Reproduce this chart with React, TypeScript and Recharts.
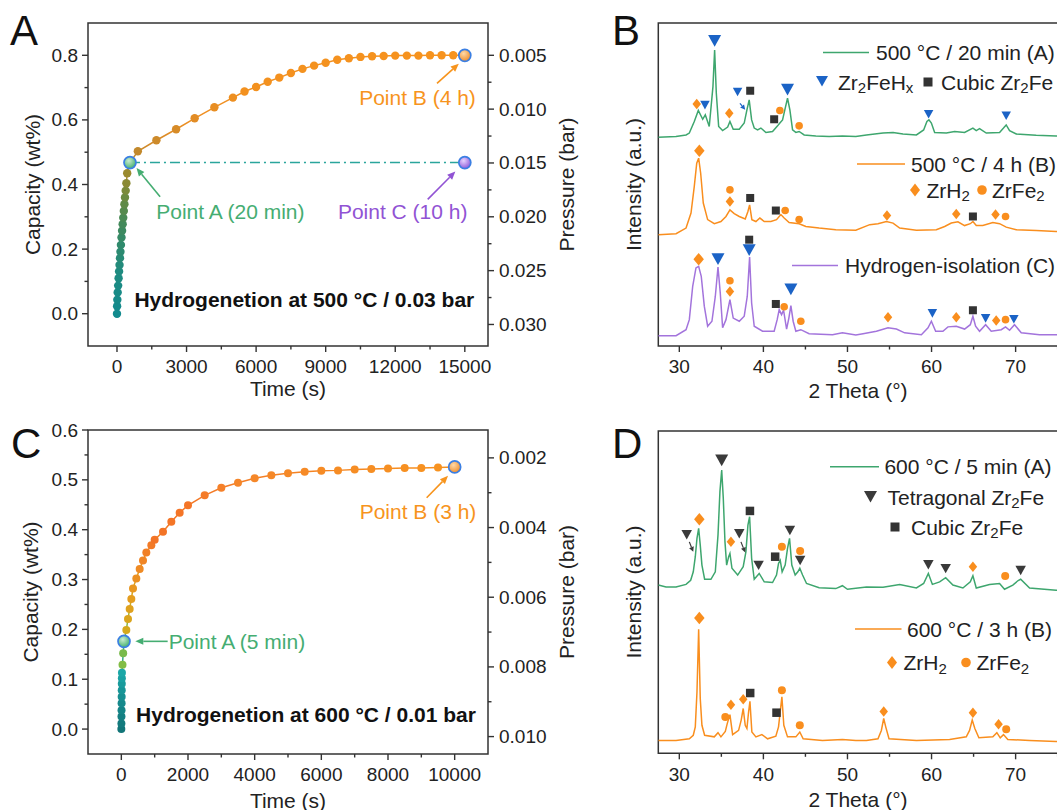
import React from 'react';
import {
  ComposedChart,
  Line,
  Scatter,
  XAxis,
  YAxis,
  ReferenceArea,
  ReferenceDot,
  ReferenceLine,
} from 'recharts';

const FONT = '"Liberation Sans", Arial, Helvetica, sans-serif';
const AX = '#333333';
const INK = '#222222';

const GREEN = '#3ea66e';
const ORANGE = '#f98e1e';
const PURPLE = '#a374dc';
const BLUE = '#1b63c6';
const DARK = '#3a3a3a';
const NOTE_GREEN = '#45ad72';
const NOTE_ORANGE = '#f7941d';
const NOTE_PURPLE = '#9153d4';

// ---------- panel A: 500 °C / 0.03 bar ----------
const A_TIME = [
  0, 5, 15, 30, 50, 70, 90, 110, 130, 150, 170, 195, 220, 245, 270, 295, 320, 345, 375, 405, 440,
  560,
  900, 1700, 2550, 3350, 4200, 5000, 5500, 6000, 6500, 7000,
  7500, 8000, 8500, 9000, 9500, 10000, 10500, 11000, 11500, 12000,
  12500, 13000, 13500, 14000, 14500, 15000,
];
const A_CAP = [
  0, 0.023, 0.043, 0.066, 0.087, 0.11, 0.131, 0.151, 0.172, 0.192, 0.213, 0.236, 0.257, 0.277,
  0.297, 0.318, 0.339, 0.36, 0.381, 0.404, 0.435,
  0.468,
  0.503, 0.537, 0.571, 0.605, 0.639, 0.669, 0.688, 0.702, 0.718, 0.731,
  0.745, 0.758, 0.768, 0.777, 0.786, 0.791, 0.795, 0.797, 0.798, 0.799,
  0.799, 0.799, 0.8, 0.8, 0.8, 0.8,
];
const A_IDX_A = 21;
const A_IDX_B = 47;
const A_POINT_C = [15000, 0.468];
const A_X_TICKS = [0, 1500, 3000, 4500, 6000, 7500, 9000, 10500, 12000, 13500, 15000];
const A_X_MAJOR = [0, 3000, 6000, 9000, 12000, 15000];
const A_Y_TICKS = [0, 0.1, 0.2, 0.3, 0.4, 0.5, 0.6, 0.7, 0.8];
const A_Y_MAJOR = [0, 0.2, 0.4, 0.6, 0.8];
const A_P_TICKS = [0.005, 0.0075, 0.01, 0.0125, 0.015, 0.0175, 0.02, 0.0225, 0.025, 0.0275, 0.03];
const A_P_MAJOR = [0.005, 0.01, 0.015, 0.02, 0.025, 0.03];

// ---------- panel C: 600 °C / 0.01 bar ----------
const C_TIME = [
  0, 2, 4, 6, 8, 10, 12, 14, 16, 18, 35, 55,
  80,
  150, 200, 250, 300, 350, 450, 550, 650, 750, 900,
  1000, 1250, 1500, 1750, 2000,
  2500, 3000, 3500, 4000, 4500, 5000, 5500, 6000, 6500, 7000, 7500, 8000, 8500, 9000, 9500, 10000,
];
const C_CAP = [
  0, 0.011, 0.025, 0.038, 0.052, 0.065, 0.078, 0.091, 0.102, 0.113, 0.129, 0.152,
  0.176,
  0.199, 0.221, 0.241, 0.261, 0.282, 0.302, 0.321, 0.338, 0.354, 0.369,
  0.38, 0.396, 0.416, 0.434, 0.449,
  0.469, 0.484, 0.494, 0.503, 0.509, 0.513, 0.516, 0.518, 0.519, 0.521, 0.522, 0.523, 0.524, 0.524,
  0.525, 0.526,
];
const C_IDX_A = 12;
const C_IDX_B = 43;
const C_X_TICKS = [0, 1000, 2000, 3000, 4000, 5000, 6000, 7000, 8000, 9000, 10000];
const C_X_MAJOR = [0, 2000, 4000, 6000, 8000, 10000];
const C_Y_TICKS = [0, 0.05, 0.1, 0.15, 0.2, 0.25, 0.3, 0.35, 0.4, 0.45, 0.5, 0.55, 0.6];
const C_Y_MAJOR = [0, 0.1, 0.2, 0.3, 0.4, 0.5, 0.6];
const C_P_TICKS = [0.002, 0.003, 0.004, 0.005, 0.006, 0.007, 0.008, 0.009, 0.01];
const C_P_MAJOR = [0.002, 0.004, 0.006, 0.008, 0.01];

// ---------- XRD (panels B and D), [2 theta, intensity] ----------
const XRD_TICKS = [30, 35, 40, 45, 50, 55, 60, 65, 70, 75];
const XRD_MAJOR = [30, 40, 50, 60, 70];

const B_GREEN = [
  [27.5, 63.6], [29.6, 63.8], [30.8, 64.3], [31.19, 64.9], [31.78, 68.6], [32.26, 72.1], [32.78, 69.3],
  [33.09, 70.7], [33.56, 67.0], [34.0, 79.7], [34.2, 91.4], [34.4, 77.6], [34.68, 67.0], [35.15, 65.7],
  [35.75, 66.8], [36.02, 68.6], [36.41, 66.1], [37.13, 66.1], [37.72, 68.1], [38.04, 72.3], [38.31, 75.5],
  [38.6, 69.1], [38.91, 66.5], [39.31, 65.9], [39.7, 66.5], [40.3, 65.1], [41.09, 65.4], [41.69, 67.2],
  [41.96, 68.1], [42.28, 69.1], [42.59, 72.8], [42.87, 76.0], [43.15, 72.3], [43.47, 65.9], [43.86, 65.1],
  [44.25, 65.4], [44.85, 64.3], [46.24, 64.0], [47.82, 63.8], [49.4, 64.0], [50.99, 63.8], [52.26, 64.3],
  [54.23, 64.9], [55.42, 65.1], [56.6, 64.6], [58.2, 64.3], [59.06, 65.9], [59.45, 68.6], [59.69, 69.1],
  [59.98, 68.1], [60.37, 65.1], [61.76, 64.9], [62.74, 65.4], [63.93, 65.1], [64.92, 66.5], [65.32, 65.7],
  [65.71, 66.3], [66.51, 64.9], [68.09, 65.1], [68.56, 66.5], [68.88, 67.5], [69.28, 65.7], [70.07, 64.6],
  [72.45, 64.2], [74.82, 64.0], [75.1, 64.0],
];
const B_ORANGE = [
  [27.5, 32.5], [29.61, 32.8], [30.8, 34.6], [31.39, 39.4], [31.78, 47.9], [32.07, 55.3], [32.3, 56.9],
  [32.54, 52.1], [32.85, 42.6], [33.37, 37.3], [34.16, 36.0], [34.95, 36.7], [35.55, 38.3], [36.02, 40.4],
  [36.53, 39.2], [37.13, 38.3], [37.84, 37.5], [38.16, 39.9], [38.36, 42.0], [38.63, 37.3], [39.11, 36.7],
  [39.58, 37.8], [40.1, 36.7], [40.89, 36.7], [41.56, 37.3], [42.08, 38.9], [42.47, 37.8], [43.06, 36.4],
  [44.25, 36.0], [45.05, 35.1], [46.63, 34.6], [48.61, 34.1], [50.99, 33.9], [52.65, 35.7], [53.63, 36.0],
  [54.63, 36.7], [55.42, 36.2], [56.21, 34.6], [58.2, 33.9], [60.57, 34.1], [61.56, 35.1], [62.35, 36.2],
  [63.14, 36.6], [63.93, 35.4], [64.61, 36.0], [64.92, 36.7], [65.32, 35.4], [66.1, 35.4], [67.29, 36.4],
  [68.09, 36.0], [68.88, 34.9], [70.07, 34.1], [72.45, 33.8], [74.82, 33.5], [75.1, 33.5],
];
const B_PURPLE = [
  [27.5, 0.3], [29.61, 0.3], [30.8, 2.2], [31.19, 5.4], [31.59, 16.0], [31.98, 21.9], [32.3, 22.4],
  [32.61, 19.2], [32.97, 9.7], [33.37, 3.3], [33.88, 4.9], [34.28, 12.8], [34.6, 22.2], [34.87, 13.9],
  [35.15, 2.8], [35.55, 5.4], [36.02, 11.8], [36.41, 5.9], [37.13, 4.9], [37.72, 6.5], [38.08, 12.8],
  [38.36, 25.4], [38.6, 10.7], [38.91, 3.3], [39.9, 1.7], [41.28, 1.7], [41.64, 5.4], [41.88, 8.6],
  [42.16, 7.0], [42.4, 8.4], [42.76, 2.4], [43.03, 5.9], [43.27, 9.9], [43.54, 4.9], [43.86, 1.7],
  [44.45, 2.2], [45.44, 0.9], [48.22, 0.6], [49.4, 1.2], [50.99, 0.5], [51.85, 0.9], [53.44, 1.7],
  [54.82, 2.8], [55.82, 2.4], [56.8, 1.2], [58.79, 0.6], [59.58, 2.8], [59.98, 4.9], [60.49, 1.7],
  [61.35, 1.7], [61.95, 3.1], [62.94, 3.3], [63.93, 2.4], [64.61, 3.8], [64.92, 6.5], [65.24, 3.3],
  [65.71, 1.7], [66.43, 3.8], [67.1, 1.7], [68.29, 2.2], [68.8, 3.1], [69.28, 2.0], [69.87, 3.8],
  [70.67, 1.2], [72.84, 0.6], [74.82, 0.6], [75.1, 0.6],
];
const B_TRI_BIG = [[34.2, 94.4], [42.87, 78.9], [34.6, 24.8], [38.31, 27.7], [43.27, 15.2]];
const B_TRI_SMALL = [[33.05, 73.9], [36.93, 78.1], [59.65, 71.0], [68.88, 70.5], [60.1, 7.5], [66.43, 5.9], [69.79, 5.6]];
const B_SQUARES = [[38.43, 78.4], [41.28, 69.3], [38.43, 44.2], [41.48, 40.2], [64.92, 38.3], [38.31, 30.9], [41.48, 10.4], [64.92, 8.4]];
const B_DIA_BIG = [[32.38, 59.3], [32.3, 24.7]];
const B_DIAMONDS = [[32.07, 74.2], [35.94, 71.2], [36.02, 43.1], [54.7, 38.6], [62.94, 39.1], [67.61, 38.9], [36.02, 14.4], [54.82, 6.2], [62.94, 6.2], [67.69, 5.1]];
const B_CIRCLES = [[41.96, 72.1], [44.25, 67.2], [36.02, 46.8], [42.59, 40.2], [44.25, 37.3], [68.8, 38.3], [36.02, 17.8], [42.47, 9.5], [44.45, 4.9], [68.8, 5.4]];
const B_ARROWS = [[[37.21, 74.4], [37.84, 72.3]]];

const D_GREEN = [
  [27.5, 52.2], [28.42, 51.6], [29.61, 51.6], [30.8, 52.4], [31.35, 53.7], [31.66, 56.3], [31.9, 61.0],
  [32.1, 66.7], [32.3, 69.8], [32.49, 64.6], [32.69, 58.4], [33.01, 54.0], [33.76, 54.0], [34.28, 56.3],
  [34.6, 67.7], [34.83, 81.2], [35.04, 87.9], [35.23, 79.1], [35.43, 65.6], [35.63, 58.4], [35.87, 61.0],
  [36.02, 62.0], [36.26, 57.4], [36.94, 55.3], [37.6, 57.9], [37.92, 62.5], [38.16, 70.8], [38.36, 73.4],
  [38.6, 60.5], [38.91, 54.0], [39.5, 55.8], [40.1, 53.2], [41.09, 53.0], [41.56, 55.3], [41.8, 58.9],
  [42.0, 59.9], [42.23, 56.3], [42.59, 58.4], [42.87, 63.6], [43.11, 66.7], [43.38, 58.4], [43.78, 55.3],
  [44.1, 56.3], [44.33, 57.4], [44.66, 55.3], [45.13, 52.7], [46.63, 51.4], [48.61, 51.1], [49.4, 52.0],
  [50.0, 50.9], [52.26, 51.6], [54.23, 51.5], [56.21, 52.4], [58.2, 51.3], [59.06, 52.7], [59.62, 55.8],
  [60.1, 52.4], [60.96, 53.2], [61.68, 54.5], [62.54, 52.2], [63.73, 51.3], [64.61, 53.2], [64.92, 55.1],
  [65.32, 51.3], [66.9, 52.4], [68.09, 52.7], [68.68, 50.9], [69.67, 52.2], [70.3, 53.6], [70.6, 54.0],
  [71.66, 51.3], [74.82, 50.6], [75.1, 50.6],
];
const D_ORANGE = [
  [27.5, 4.0], [29.61, 4.0], [31.19, 4.5], [31.66, 5.6], [31.9, 8.2], [32.1, 19.0], [32.3, 38.5],
  [32.49, 17.0], [32.69, 8.7], [33.01, 5.6], [34.16, 5.1], [34.6, 6.4], [34.95, 5.1], [35.47, 6.8],
  [35.7, 9.2], [36.02, 12.0], [36.34, 5.8], [37.05, 7.1], [37.36, 10.3], [37.6, 13.9], [37.84, 8.7],
  [38.04, 7.7], [38.24, 12.9], [38.4, 16.1], [38.63, 6.6], [39.11, 5.1], [39.82, 5.8], [40.5, 4.5],
  [41.48, 5.3], [41.8, 8.2], [42.0, 12.9], [42.2, 17.5], [42.43, 8.7], [42.87, 5.1], [43.86, 5.1],
  [44.33, 6.6], [44.73, 4.5], [47.03, 4.0], [49.4, 4.3], [50.99, 4.0], [52.26, 4.0], [53.63, 4.5],
  [54.03, 7.1], [54.31, 10.8], [54.55, 8.2], [54.94, 4.5], [58.2, 4.0], [62.15, 4.3], [64.13, 5.1],
  [64.52, 7.1], [64.84, 10.3], [65.15, 7.7], [65.63, 4.8], [67.29, 5.1], [67.77, 6.4], [68.17, 4.8],
  [68.56, 5.8], [69.07, 4.3], [71.66, 4.0], [74.82, 3.7], [75.1, 3.7],
];
const D_TRI_BIG = [[35.04, 91.0]];
const D_TRI = [[30.88, 67.9], [37.13, 68.2], [39.43, 58.4], [43.15, 69.2], [44.37, 59.9], [59.62, 58.6], [61.68, 57.4], [70.6, 56.8]];
const D_SQUARES = [[38.4, 75.2], [41.4, 61.0], [38.43, 18.7], [41.56, 12.6]];
const D_DIA_BIG = [[32.38, 72.6], [32.38, 42.0]];
const D_DIAMONDS = [[36.14, 65.6], [64.92, 57.9], [36.14, 15.1], [37.6, 16.8], [54.31, 13.0], [64.92, 12.6], [67.97, 9.0]];
const D_CIRCLES = [[42.2, 64.1], [44.37, 62.8], [68.76, 55.0], [35.47, 11.3], [42.2, 19.6], [44.33, 8.7], [68.88, 7.5]];
const D_ARROWS = [[[31.19, 65.6], [31.66, 62.5]], [[37.33, 65.6], [37.84, 62.3]]];

// ---------- helpers ----------
const toXY = (pairs: number[][]) => pairs.map(([x, y]) => ({ x, y }));
const zipXY = (xs: number[], ys: number[]) => xs.map((x, i) => ({ x, y: ys[i] }));

function hexToRgb(h: string) {
  const n = parseInt(h.slice(1), 16);
  return [(n >> 16) & 255, (n >> 8) & 255, n & 255];
}
// colour ramp over dot index (styling only)
function ramp(stops: [number, string][], count: number) {
  const out: string[] = [];
  for (let i = 0; i < count; i++) {
    let k = 0;
    while (k < stops.length - 2 && i > stops[k + 1][0]) k++;
    const [i0, c0] = stops[k];
    const [i1, c1] = stops[k + 1];
    const t = i1 === i0 ? 0 : Math.min(1, Math.max(0, (i - i0) / (i1 - i0)));
    const a = hexToRgb(c0);
    const b = hexToRgb(c1);
    const m = a.map((v, j) => Math.round(v + (b[j] - v) * t));
    out.push(`rgb(${m[0]},${m[1]},${m[2]})`);
  }
  return out;
}

const A_DOT_COLORS = ramp(
  [[0, '#138b8e'], [6, '#1f8b80'], [10, '#2f8a6c'], [14, '#4a8a55'], [17, '#6a8a40'], [20, '#9a8a2e'],
   [22, '#c2892c'], [25, '#e28c25'], [28, '#f3911f'], [47, '#f7931e']],
  A_TIME.length,
);
const C_DOT_COLORS = ramp(
  [[0, '#127578'], [4, '#16898c'], [9, '#1ba7a7'], [10, '#82bd45'], [12, '#6fb751'], [13, '#d5a91c'],
   [16, '#e49d1f'], [19, '#ef8a24'], [23, '#f37426'], [27, '#f47527'], [30, '#f5862a'], [43, '#f7931e']],
  C_TIME.length,
);

type Side = 'left' | 'right' | 'bottom';
function tickRenderer(side: Side, majors: number[], fmt: (v: number) => string, gap: number) {
  return (props: any) => {
    const { x, y, payload } = props;
    const v = Number(payload.value);
    const major = majors.some((m) => Math.abs(m - v) < 1e-9);
    const len = major ? 6 : 3.5;
    const label = major ? fmt(v) : '';
    if (side === 'bottom') {
      return (
        <g>
          <line x1={x} y1={y} x2={x} y2={y + len} stroke={AX} strokeWidth={1.4} />
          {label && (
            <text x={x} y={y + gap} textAnchor="middle" dominantBaseline="central" fontSize={19} fill={INK} fontFamily={FONT}>
              {label}
            </text>
          )}
        </g>
      );
    }
    const dir = side === 'left' ? -1 : 1;
    return (
      <g>
        <line x1={x} y1={y} x2={x + dir * len} y2={y} stroke={AX} strokeWidth={1.4} />
        {label && (
          <text x={x + dir * gap} y={y} textAnchor={side === 'left' ? 'end' : 'start'} dominantBaseline="central" fontSize={19} fill={INK} fontFamily={FONT}>
            {label}
          </text>
        )}
      </g>
    );
  };
}

const dotRenderer = (colors: string[], r: number) => (p: any) => (
  <circle key={`d-${p.index}`} cx={p.cx} cy={p.cy} r={r} fill={colors[p.index]} stroke="none" />
);

const ringShape = (gradId: string) => (p: any) => (
  <circle cx={p.cx} cy={p.cy} r={6} fill={`url(#${gradId})`} stroke="#3b7fe3" strokeWidth={1.7} />
);

const noteShape = (text: string, color: string, anchor: 'start' | 'middle' | 'end' = 'middle', bold = false) => (p: any) => (
  <text
    x={p.cx}
    y={p.cy}
    textAnchor={anchor}
    dominantBaseline="central"
    fontSize={21}
    fontWeight={bold ? 700 : 400}
    fill={color}
    fontFamily={FONT}
  >
    {text}
  </text>
);

const arrowShape = (color: string, head = 8, half = 3.5, width = 1.6) => (p: any) => {
  const { x1, y1, x2, y2 } = p;
  const ang = Math.atan2(y2 - y1, x2 - x1);
  const bx = x2 - head * Math.cos(ang);
  const by = y2 - head * Math.sin(ang);
  const s = Math.sin(ang);
  const c = Math.cos(ang);
  const pts = `${x2},${y2} ${bx + half * s},${by - half * c} ${bx - half * s},${by + half * c}`;
  return (
    <g>
      <line x1={x1} y1={y1} x2={bx} y2={by} stroke={color} strokeWidth={width} />
      <polygon points={pts} fill={color} />
    </g>
  );
};

// marker glyphs
const triDown = (color: string, s: number) => (p: any) => (
  <polygon
    points={`${p.cx - s / 2},${p.cy - s * 0.42} ${p.cx + s / 2},${p.cy - s * 0.42} ${p.cx},${p.cy + s * 0.48}`}
    fill={color}
  />
);
const squareShape = (color: string, s: number) => (p: any) => (
  <rect x={p.cx - s / 2} y={p.cy - s / 2} width={s} height={s} fill={color} />
);
const diamondShape = (color: string, w: number, h: number) => (p: any) => (
  <polygon points={`${p.cx},${p.cy - h / 2} ${p.cx + w / 2},${p.cy} ${p.cx},${p.cy + h / 2} ${p.cx - w / 2},${p.cy}`} fill={color} />
);
const circleShape = (color: string, r: number) => (p: any) => <circle cx={p.cx} cy={p.cy} r={r} fill={color} />;

const fmtInt = (v: number) => String(Math.round(v));
const fmt1 = (v: number) => v.toFixed(1);
const fmt3 = (v: number) => v.toFixed(3);

// ---------- kinetic panels ----------
interface KineticProps {
  id: string;
  time: number[];
  cap: number[];
  idxA: number;
  idxB: number;
  colors: string[];
  dotR: number;
  xDomain: [number, number];
  yDomain: [number, number];
  pDomain: [number, number];
  xTicks: number[];
  xMajor: number[];
  yTicks: number[];
  yMajor: number[];
  pTicks: number[];
  pMajor: number[];
  top: number;
  xAxisH: number;
  lineStops: [string, string][];
  children?: React.ReactNode;
}

function KineticPanel(k: KineticProps) {
  const data = zipXY(k.time, k.cap);
  return (
    <ComposedChart width={600} height={405} margin={{ top: k.top, right: 0, bottom: 0, left: 0 }}>
      <defs>
        <linearGradient id={`line-${k.id}`} x1="0" y1="0" x2="1" y2="0">
          {k.lineStops.map(([off, col]) => (
            <stop key={off} offset={off} stopColor={col} />
          ))}
        </linearGradient>
        <radialGradient id={`gg-${k.id}`} cx="40%" cy="35%" r="70%">
          <stop offset="0%" stopColor="#c8ecd0" />
          <stop offset="100%" stopColor="#3fae6a" />
        </radialGradient>
        <radialGradient id={`go-${k.id}`} cx="40%" cy="35%" r="70%">
          <stop offset="0%" stopColor="#ffd9a8" />
          <stop offset="100%" stopColor="#f08a24" />
        </radialGradient>
        <radialGradient id={`gp-${k.id}`} cx="40%" cy="35%" r="70%">
          <stop offset="0%" stopColor="#e6d2ff" />
          <stop offset="100%" stopColor="#8c55d8" />
        </radialGradient>
      </defs>
      <XAxis
        type="number"
        dataKey="x"
        domain={k.xDomain}
        ticks={k.xTicks}
        interval={0}
        tickSize={0}
        tickMargin={0}
        tickLine={false}
        axisLine={false}
        height={k.xAxisH}
        allowDataOverflow
        tick={tickRenderer('bottom', k.xMajor, fmtInt, 20.7)}
      />
      <YAxis
        yAxisId="cap"
        type="number"
        dataKey="y"
        domain={k.yDomain}
        ticks={k.yTicks}
        interval={0}
        tickSize={0}
        tickMargin={0}
        tickLine={false}
        axisLine={false}
        width={88}
        allowDataOverflow
        tick={tickRenderer('left', k.yMajor, fmt1, 10)}
      />
      <YAxis
        yAxisId="p"
        orientation="right"
        type="number"
        dataKey="y"
        domain={k.pDomain}
        reversed
        ticks={k.pTicks}
        interval={0}
        tickSize={0}
        tickMargin={0}
        tickLine={false}
        axisLine={false}
        width={112}
        allowDataOverflow
        tick={tickRenderer('right', k.pMajor, fmt3, 11)}
      />
      <ReferenceArea
        yAxisId="cap"
        x1={k.xDomain[0]}
        x2={k.xDomain[1]}
        y1={k.yDomain[0]}
        y2={k.yDomain[1]}
        fill="none"
        fillOpacity={0}
        stroke={AX}
        strokeWidth={1.5}
        ifOverflow="visible"
      />
      {k.children}
      <Line
        yAxisId="cap"
        data={data}
        dataKey="y"
        type="linear"
        stroke={`url(#line-${k.id})`}
        strokeWidth={1.5}
        dot={dotRenderer(k.colors, k.dotR)}
        activeDot={false}
        isAnimationActive={false}
      />
      <Scatter yAxisId="cap" data={[data[k.idxA]]} shape={ringShape(`gg-${k.id}`)} isAnimationActive={false} />
      <Scatter yAxisId="cap" data={[data[k.idxB]]} shape={ringShape(`go-${k.id}`)} isAnimationActive={false} />
    </ComposedChart>
  );
}

function PanelA() {
  const pA = { x: A_TIME[A_IDX_A], y: A_CAP[A_IDX_A] };
  const pC = { x: A_POINT_C[0], y: A_POINT_C[1] };
  return (
    <KineticPanel
      id="a"
      time={A_TIME}
      cap={A_CAP}
      idxA={A_IDX_A}
      idxB={A_IDX_B}
      colors={A_DOT_COLORS}
      dotR={4.2}
      xDomain={[-1250, 16000]}
      yDomain={[-0.1, 0.9]}
      pDomain={[0.002, 0.032]}
      xTicks={A_X_TICKS}
      xMajor={A_X_MAJOR}
      yTicks={A_Y_TICKS}
      yMajor={A_Y_MAJOR}
      pTicks={A_P_TICKS}
      pMajor={A_P_MAJOR}
      top={23}
      xAxisH={59}
      lineStops={[['0%', '#2f8a70'], ['3%', '#b58a2e'], ['8%', '#d08a2a'], ['22%', '#ef8f22'], ['100%', '#f7931e']]}
    >
      <Line
        yAxisId="cap"
        data={[pA, pC]}
        dataKey="y"
        type="linear"
        stroke="#2aa59c"
        strokeWidth={1.5}
        strokeDasharray="10 4 2 4"
        dot={false}
        activeDot={false}
        isAnimationActive={false}
      />
      <Scatter yAxisId="cap" data={[pC]} shape={ringShape('gp-a')} isAnimationActive={false} />
      <ReferenceLine yAxisId="cap" segment={[{ x: 1860, y: 0.362 }, { x: 843, y: 0.451 }]} shape={arrowShape(NOTE_GREEN)} />
      <ReferenceLine yAxisId="cap" segment={[{ x: 13800, y: 0.713 }, { x: 14740, y: 0.774 }]} shape={arrowShape(NOTE_ORANGE)} />
      <ReferenceLine yAxisId="cap" segment={[{ x: 13400, y: 0.354 }, { x: 14590, y: 0.44 }]} shape={arrowShape(NOTE_PURPLE)} />
      <ReferenceDot yAxisId="cap" x={4890} y={0.316} shape={noteShape('Point A (20 min)', NOTE_GREEN)} />
      <ReferenceDot yAxisId="cap" x={12960} y={0.668} shape={noteShape('Point B (4 h)', NOTE_ORANGE)} />
      <ReferenceDot yAxisId="cap" x={12320} y={0.316} shape={noteShape('Point C (10 h)', NOTE_PURPLE)} />
      <ReferenceDot yAxisId="cap" x={8080} y={0.043} shape={noteShape('Hydrogenetion at 500 °C / 0.03 bar', '#111', 'middle', true)} />
    </KineticPanel>
  );
}

function PanelC() {
  return (
    <KineticPanel
      id="c"
      time={C_TIME}
      cap={C_CAP}
      idxA={C_IDX_A}
      idxB={C_IDX_B}
      colors={C_DOT_COLORS}
      dotR={4}
      xDomain={[-1000, 11000]}
      yDomain={[-0.05, 0.6]}
      pDomain={[0.0012, 0.0105]}
      xTicks={C_X_TICKS}
      xMajor={C_X_MAJOR}
      yTicks={C_Y_TICKS}
      yMajor={C_Y_MAJOR}
      pTicks={C_P_TICKS}
      pMajor={C_P_MAJOR}
      top={25}
      xAxisH={56}
      lineStops={[['0%', '#1aa0a0'], ['1.5%', '#7dbb48'], ['3%', '#d8a71e'], ['8%', '#ee8d24'], ['15%', '#f37526'], ['30%', '#f47c27'], ['100%', '#f7921f']]}
    >
      <ReferenceLine yAxisId="cap" segment={[{ x: 1390, y: 0.176 }, { x: 420, y: 0.176 }]} shape={arrowShape(NOTE_GREEN)} />
      <ReferenceLine yAxisId="cap" segment={[{ x: 9160, y: 0.464 }, { x: 9800, y: 0.508 }]} shape={arrowShape(NOTE_ORANGE)} />
      <ReferenceDot yAxisId="cap" x={1419} y={0.176} shape={noteShape('Point A (5 min)', NOTE_GREEN, 'start')} />
      <ReferenceDot yAxisId="cap" x={8900} y={0.436} shape={noteShape('Point B (3 h)', NOTE_ORANGE)} />
      <ReferenceDot yAxisId="cap" x={5540} y={0.03} shape={noteShape('Hydrogenetion at 600 °C / 0.01 bar', '#111', 'middle', true)} />
    </KineticPanel>
  );
}

// ---------- XRD panels ----------
interface XrdProps {
  top: number;
  xAxisH: number;
  yDomain: [number, number];
  children: React.ReactNode;
}
function XrdPanel({ top, xAxisH, yDomain, children }: XrdProps) {
  const xDomain: [number, number] = [27.5, 75.1];
  return (
    <ComposedChart width={480} height={405} margin={{ top, right: 11.5, bottom: 0, left: 0 }}>
      <XAxis
        type="number"
        dataKey="x"
        domain={xDomain}
        ticks={XRD_TICKS}
        interval={0}
        tickSize={0}
        tickMargin={0}
        tickLine={false}
        axisLine={false}
        height={xAxisH}
        allowDataOverflow
        tick={tickRenderer('bottom', XRD_MAJOR, fmtInt, 20.7)}
      />
      <YAxis type="number" dataKey="y" domain={yDomain} width={68.3} tick={false} tickLine={false} axisLine={false} allowDataOverflow />
      <ReferenceArea
        x1={xDomain[0]}
        x2={xDomain[1]}
        y1={yDomain[0]}
        y2={yDomain[1]}
        fill="none"
        fillOpacity={0}
        stroke={AX}
        strokeWidth={1.5}
        ifOverflow="visible"
      />
      {children}
    </ComposedChart>
  );
}

const pattern = (pairs: number[][], color: string, key: string) => (
  <Line key={key} data={toXY(pairs)} dataKey="y" type="linear" stroke={color} strokeWidth={1.5} dot={false} activeDot={false} isAnimationActive={false} />
);
const marks = (pairs: number[][], shape: any, key: string) => (
  <Scatter key={key} data={toXY(pairs)} shape={shape} isAnimationActive={false} />
);
const arrows = (list: number[][][], color: string, key: string) =>
  list.map((seg, i) => (
    <ReferenceLine
      key={`${key}-${i}`}
      segment={[{ x: seg[0][0], y: seg[0][1] }, { x: seg[1][0], y: seg[1][1] }]}
      shape={arrowShape(color, 5, 2.5, 1.2)}
    />
  ));

function PanelB() {
  return (
    <XrdPanel top={23} xAxisH={59} yDomain={[-3, 100]}>
      {pattern(B_GREEN, GREEN, 'g')}
      {pattern(B_ORANGE, ORANGE, 'o')}
      {pattern(B_PURPLE, PURPLE, 'p')}
      {arrows(B_ARROWS, BLUE, 'ba')}
      {marks(B_TRI_BIG, triDown(BLUE, 13), 'tb')}
      {marks(B_TRI_SMALL, triDown(BLUE, 9.5), 'ts')}
      {marks(B_SQUARES, squareShape('#333', 8), 'sq')}
      {marks(B_DIA_BIG, diamondShape(ORANGE, 10.5, 12.5), 'db')}
      {marks(B_DIAMONDS, diamondShape(ORANGE, 8.5, 10.5), 'dd')}
      {marks(B_CIRCLES, circleShape(ORANGE, 3.8), 'cc')}
    </XrdPanel>
  );
}

function PanelD() {
  return (
    <XrdPanel top={26} xAxisH={56.7} yDomain={[0, 100]}>
      {pattern(D_GREEN, GREEN, 'g')}
      {pattern(D_ORANGE, ORANGE, 'o')}
      {arrows(D_ARROWS, DARK, 'da')}
      {marks(D_TRI_BIG, triDown(DARK, 13), 'tb')}
      {marks(D_TRI, triDown(DARK, 10.5), 'ts')}
      {marks(D_SQUARES, squareShape('#333', 8.5), 'sq')}
      {marks(D_DIA_BIG, diamondShape(ORANGE, 10.5, 12.5), 'db')}
      {marks(D_DIAMONDS, diamondShape(ORANGE, 8.5, 10.5), 'dd')}
      {marks(D_CIRCLES, circleShape(ORANGE, 4), 'cc')}
    </XrdPanel>
  );
}

// ---------- titles, panel letters and legends ----------
const T = { fontFamily: FONT, fill: INK } as const;
const Sub = ({ children }: { children: React.ReactNode }) => (
  <tspan dy={5} fontSize={15}>
    {children}
  </tspan>
);
const Up = ({ children }: { children: React.ReactNode }) => <tspan dy={-5}>{children}</tspan>;

function LegendLine({ x1, x2, y, color }: { x1: number; x2: number; y: number; color: string }) {
  return <line x1={x1} x2={x2} y1={y} y2={y} stroke={color} strokeWidth={1.6} />;
}
function Label({ x, y, children }: { x: number; y: number; children: React.ReactNode }) {
  return (
    <text x={x} y={y} dominantBaseline="central" fontSize={21} {...T}>
      {children}
    </text>
  );
}

function Overlay() {
  return (
    <svg width={1057} height={810} style={{ position: 'absolute', left: 0, top: 0, pointerEvents: 'none' }}>
      {/* panel letters */}
      <text x={10} y={45} fontSize={42} {...T} fill="#111">A</text>
      <text x={612} y={45} fontSize={42} {...T} fill="#111">B</text>
      <text x={11} y={458} fontSize={42} {...T} fill="#111">C</text>
      <text x={612} y={458} fontSize={42} {...T} fill="#111">D</text>

      {/* axis titles */}
      <text x={288} y={388} textAnchor="middle" dominantBaseline="central" fontSize={21} {...T}>Time (s)</text>
      <text x={288} y={800} textAnchor="middle" dominantBaseline="central" fontSize={21} {...T}>Time (s)</text>
      <text x={858} y={390} textAnchor="middle" dominantBaseline="central" fontSize={21} {...T}>2 Theta (°)</text>
      <text x={858} y={799} textAnchor="middle" dominantBaseline="central" fontSize={21} {...T}>2 Theta (°)</text>
      <text transform="translate(32,184.5) rotate(-90)" textAnchor="middle" dominantBaseline="central" fontSize={21} {...T}>Capacity (wt%)</text>
      <text transform="translate(30,592) rotate(-90)" textAnchor="middle" dominantBaseline="central" fontSize={21} {...T}>Capacity (wt%)</text>
      <text transform="translate(566,184.5) rotate(-90)" textAnchor="middle" dominantBaseline="central" fontSize={21} {...T}>Pressure (bar)</text>
      <text transform="translate(566,592) rotate(-90)" textAnchor="middle" dominantBaseline="central" fontSize={21} {...T}>Pressure (bar)</text>
      <text transform="translate(633,184.5) rotate(-90)" textAnchor="middle" dominantBaseline="central" fontSize={21} {...T}>Intensity (a.u.)</text>
      <text transform="translate(633,592) rotate(-90)" textAnchor="middle" dominantBaseline="central" fontSize={21} {...T}>Intensity (a.u.)</text>

      {/* legend B */}
      <LegendLine x1={823} x2={869} y={52.5} color={GREEN} />
      <Label x={876} y={52.5}>500 °C / 20 min (A)</Label>
      <polygon points="816,76 828,76 822,86.5" fill={BLUE} />
      <Label x={838} y={82}>
        Zr<Sub>2</Sub><Up>FeH</Up><Sub>x</Sub>
      </Label>
      <rect x={923.5} y={77.5} width={9} height={9} fill="#333" />
      <Label x={941} y={82}>
        Cubic Zr<Sub>2</Sub><Up>Fe</Up>
      </Label>
      <LegendLine x1={857} x2={905} y={164} color={ORANGE} />
      <Label x={911} y={164}>500 °C / 4 h (B)</Label>
      <polygon points="915,183.5 920,190 915,196.5 910,190" fill={ORANGE} />
      <Label x={926.5} y={190}>
        ZrH<Sub>2</Sub>
      </Label>
      <circle cx={982} cy={190} r={4.8} fill={ORANGE} />
      <Label x={992} y={190}>
        ZrFe<Sub>2</Sub>
      </Label>
      <LegendLine x1={792} x2={838} y={265.5} color={PURPLE} />
      <Label x={845} y={265.5}>Hydrogen-isolation (C)</Label>

      {/* legend D */}
      <LegendLine x1={830} x2={879} y={466.7} color={GREEN} />
      <Label x={884.4} y={466.7}>600 °C / 5 min (A)</Label>
      <polygon points="864,491 877,491 870.5,502.5" fill={DARK} />
      <Label x={887.5} y={497}>
        Tetragonal Zr<Sub>2</Sub><Up>Fe</Up>
      </Label>
      <rect x={890.5} y={522.5} width={9} height={9} fill="#333" />
      <Label x={911} y={527}>
        Cubic Zr<Sub>2</Sub><Up>Fe</Up>
      </Label>
      <LegendLine x1={855} x2={901.5} y={629} color={ORANGE} />
      <Label x={907} y={629}>600 °C / 3 h (B)</Label>
      <polygon points="892,656 897,662.5 892,669 887,662.5" fill={ORANGE} />
      <Label x={903.5} y={662.5}>
        ZrH<Sub>2</Sub>
      </Label>
      <circle cx={966} cy={662.5} r={4.8} fill={ORANGE} />
      <Label x={976.5} y={662.5}>
        ZrFe<Sub>2</Sub>
      </Label>
    </svg>
  );
}

export default function App() {
  return (
    <div
      style={{
        position: 'fixed',
        left: 0,
        top: 0,
        width: 1057,
        height: 810,
        overflow: 'hidden',
        background: '#ffffff',
        fontFamily: FONT,
      }}
    >
      <div style={{ position: 'absolute', left: 0, top: 0 }}>
        <PanelA />
      </div>
      <div style={{ position: 'absolute', left: 590, top: 0 }}>
        <PanelB />
      </div>
      <div style={{ position: 'absolute', left: 0, top: 405 }}>
        <PanelC />
      </div>
      <div style={{ position: 'absolute', left: 590, top: 405 }}>
        <PanelD />
      </div>
      <Overlay />
    </div>
  );
}
